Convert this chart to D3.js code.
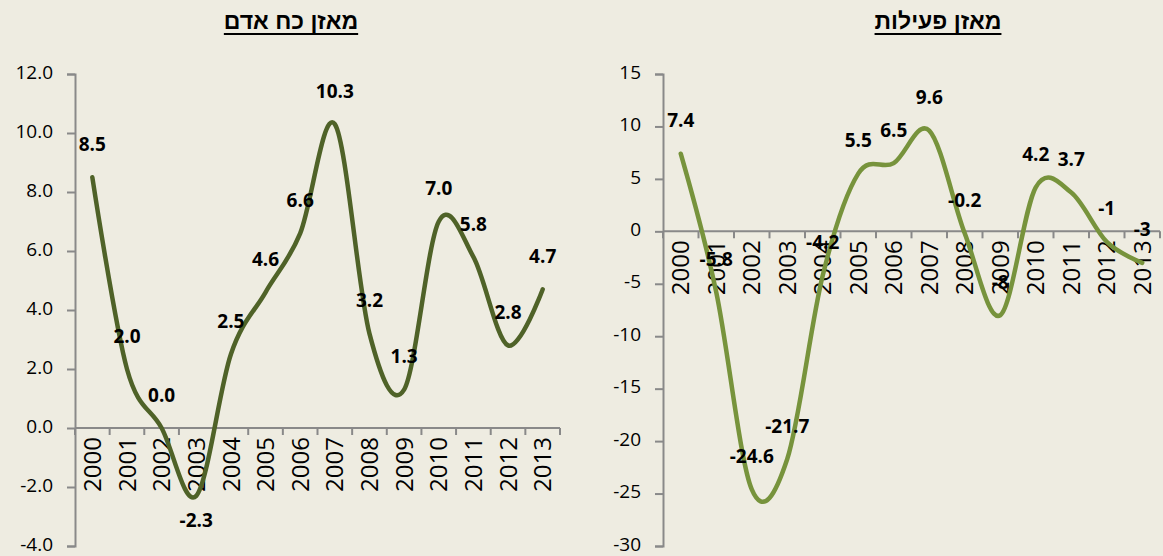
<!DOCTYPE html>
<html>
<head>
<meta charset="utf-8">
<script src="https://cdn.jsdelivr.net/npm/d3@7"></script>
<style>
  html, body { margin: 0; padding: 0; background: #EEECE1; }
  svg { display: block; }
  .title { font-family: "Liberation Sans", Arial, sans-serif; font-weight: bold; font-size: 23px; }
  .tick text { font-family: "Open Sans", sans-serif; font-size: 19px; fill: #000; }
  .lbl { font-family: "Open Sans", sans-serif; font-weight: bold; font-size: 19px; fill: #000; }
</style>
</head>
<body>
<div id="chart"></div>
<script>
// years on both charts
const years = ["2000", "2001", "2002", "2003", "2004", "2005", "2006", "2007", "2008", "2009", "2010", "2011", "2012", "2013"];

// manpower balance
const manpowerValues = [8.5, 2.0, 0.0, -2.3, 2.5, 4.6, 6.6, 10.3, 3.2, 1.3, 7.0, 5.8, 2.8, 4.7];
const manpowerTicks = [-4, -2, 0, 2, 4, 6, 8, 10, 12];

// activity balance
const activityValues = [7.4, -5.8, -24.6, -21.7, -4.2, 5.5, 6.5, 9.6, -0.2, -8, 4.2, 3.7, -1, -3];
const activityTicks = [-30, -25, -20, -15, -10, -5, 0, 5, 10, 15];

const W = 1163, H = 556;

// plain hyphen for negatives, like the original
const loc = d3.formatLocale({ decimal: ".", thousands: ",", grouping: [3], currency: ["", ""], minus: "-" });

const svg = d3.select("#chart").append("svg")
    .attr("width", W)
    .attr("height", H);

svg.append("rect").attr("width", W).attr("height", H).attr("fill", "#EEECE1");

//draws one panel
function panel(opts) {
    const x = d3.scaleBand().domain(years).range([opts.left, opts.right]);
    const y = d3.scaleLinear().domain(opts.domain).range([546, 74]);

    const g = svg.append("g");

    // title, underlined
    const t = g.append("text")
        .attr("class", "title")
        .attr("x", opts.titleX)
        .attr("y", 29)
        .attr("text-anchor", "middle")
        .attr("direction", "rtl")
        .text(opts.title);
    const bb = t.node().getBBox();
    g.append("line")
        .attr("x1", bb.x).attr("x2", bb.x + bb.width)
        .attr("y1", 34).attr("y2", 34)
        .attr("stroke", "#000").attr("stroke-width", 2);

    // y axis
    const ya = g.append("g")
        .attr("transform", "translate(" + opts.left + ",0)")
        .call(d3.axisLeft(y).tickValues(opts.ticks).tickFormat(opts.fmt).tickSize(8).tickPadding(14));
    ya.selectAll(".tick text").attr("dy", "0.22em");

    // x axis with ticks at band edges
    const xa = g.append("g")
        .attr("transform", "translate(0," + y(0) + ")");
    xa.append("line")
        .attr("x1", opts.left).attr("x2", opts.right)
        .attr("stroke", "#898989").attr("stroke-width", 2);
    xa.selectAll(".edge")
        .data(years.concat(["end"]))
        .enter().append("line")
        .attr("x1", (d, i) => opts.left + i * x.step())
        .attr("x2", (d, i) => opts.left + i * x.step())
        .attr("y1", 0).attr("y2", 7)
        .attr("stroke", "#898989").attr("stroke-width", 2);
    xa.selectAll(".yr")
        .data(years)
        .enter().append("text")
        .attr("class", "lbl")
        .style("font-weight", "normal")
        .style("font-size", "24px")
        .attr("transform", d => "translate(" + (x(d) + x.bandwidth() / 2) + ",9) rotate(-90)")
        .attr("text-anchor", "end")
        .attr("dy", "0.36em")
        .text(d => d);

    ya.select(".domain").attr("stroke", "#898989").attr("stroke-width", 2);
    ya.selectAll(".tick line").attr("stroke", "#898989").attr("stroke-width", 2);

    // smoothed line
    const line = d3.line()
        .x((d, i) => x(years[i]) + x.bandwidth() / 2)
        .y(d => y(d))
        .curve(d3.curveCardinal.tension(0));

    g.append("path")
        .datum(opts.values)
        .attr("d", line)
        .attr("fill", "none")
        .attr("stroke", opts.color)
        .attr("stroke-width", 4.5)
        .attr("stroke-linecap", "round");

    // data labels
    g.selectAll(".dl")
        .data(opts.values)
        .enter().append("text")
        .attr("class", "lbl")
        .attr("x", (d, i) => x(years[i]) + x.bandwidth() / 2)
        .attr("y", (d, i) => y(d) + (opts.below.includes(years[i]) ? 24 : -33))
        .attr("dy", "0.35em")
        .attr("text-anchor", "middle")
        .text(d => opts.labelFmt(d));
}

panel({
    title: "מאזן כח אדם",
    titleX: 291,
    left: 75, right: 560,
    domain: [-4, 12],
    ticks: manpowerTicks,
    fmt: loc.format(".1f"),
    labelFmt: loc.format(".1f"),
    values: manpowerValues,
    color: "#4F6228",
    below: ["2003"]
});

panel({
    title: "מאזן פעילות",
    titleX: 938,
    left: 663, right: 1160,
    domain: [-30, 15],
    ticks: activityTicks,
    fmt: loc.format("d"),
    labelFmt: d => String(d),
    values: activityValues,
    color: "#77933C",
    below: []
});
</script>
</body>
</html>
